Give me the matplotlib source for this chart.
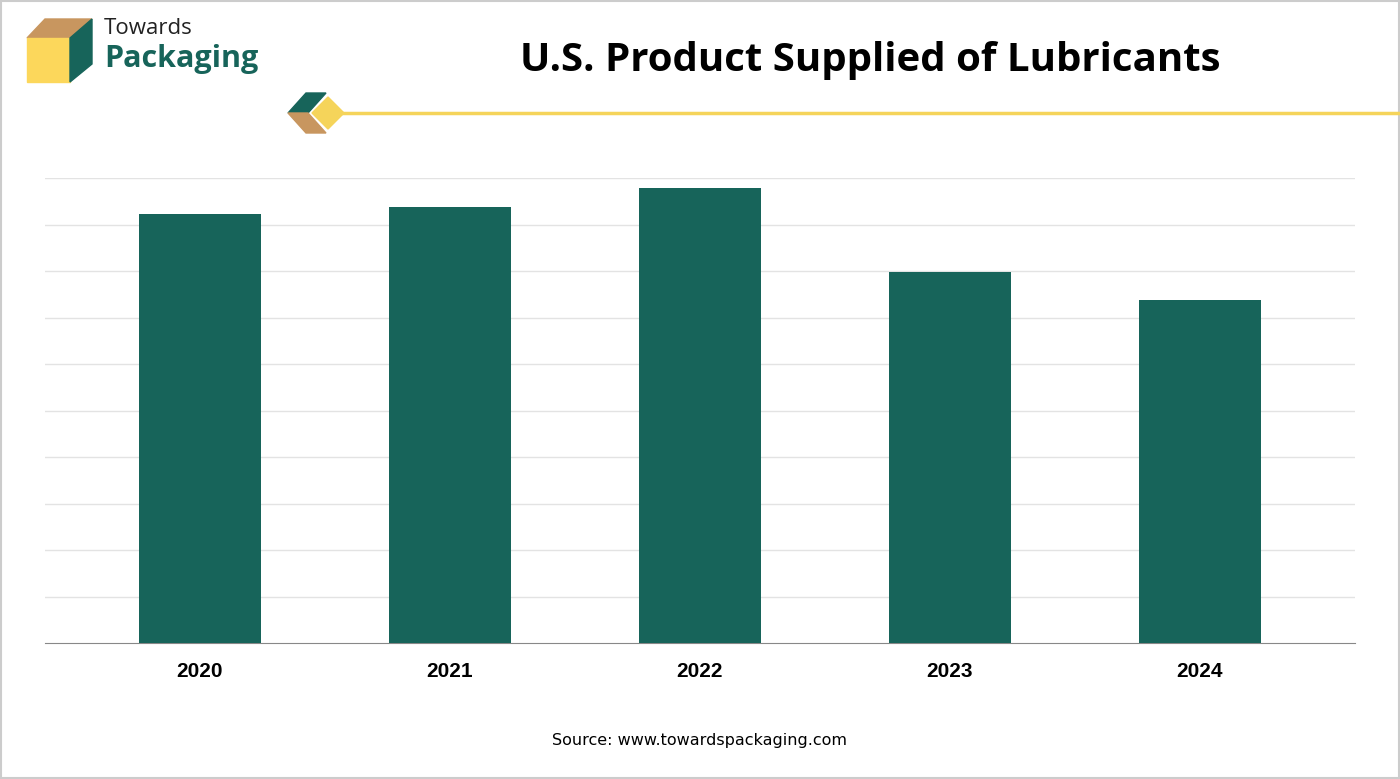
import matplotlib.pyplot as plt
from matplotlib.patches import Polygon, Rectangle

years = ['2020', '2021', '2022', '2023', '2024']
values = [9.23, 9.38, 9.78, 7.98, 7.38]

W, H = 1400, 779
fig = plt.figure(figsize=(14, 7.79), dpi=100)

def fx(px):
    return px / W

def fy(py):
    return 1 - py / H

ax = fig.add_axes([fx(45), fy(643), fx(1355) - fx(45), fy(178) - fy(643)])
ax.bar(range(len(years)), values, width=0.49, color='#17645a', zorder=3)
ax.set_xlim(-0.62, 4.62)
ax.set_ylim(0, 10)
ax.set_yticks(range(1, 11))
ax.yaxis.grid(True, color='#e3e3e3', linewidth=1)
ax.tick_params(axis='y', length=0, labelleft=False)
ax.set_xticks(range(len(years)))
ax.set_xticklabels(years, fontsize=15, fontweight='bold', fontfamily='Liberation Sans')
ax.tick_params(axis='x', length=0, pad=14)
for s in ['top', 'right', 'left']:
    ax.spines[s].set_visible(False)
ax.spines['bottom'].set_color('#888888')

# header
fig.text(fx(870), fy(60), 'U.S. Product Supplied of Lubricants', ha='center', va='center',
         fontsize=29, fontweight='bold', fontfamily='Open Sans')
fig.add_artist(plt.Line2D([fx(340), fx(1400)], [fy(113), fy(113)], color='#f5d45a', lw=2.5))
fig.add_artist(Polygon([(fx(288), fy(113)), (fx(306), fy(93)), (fx(326), fy(93)), (fx(308), fy(113))],
                       color='#17645a', transform=fig.transFigure))
fig.add_artist(Polygon([(fx(288), fy(113)), (fx(308), fy(113)), (fx(326), fy(133)), (fx(306), fy(133))],
                       color='#c8965f', transform=fig.transFigure))
fig.add_artist(Polygon([(fx(312), fy(113)), (fx(328), fy(97)), (fx(344), fy(113)), (fx(328), fy(129))],
                       color='#f5d45a', transform=fig.transFigure))

# logo
fig.add_artist(Polygon([(fx(27), fy(38)), (fx(45), fy(19)), (fx(92), fy(19)), (fx(70), fy(38))],
                       color='#c8965f', transform=fig.transFigure))
fig.add_artist(Rectangle((fx(27), fy(82)), fx(43), fy(38) - fy(82), color='#fcd75b',
                         transform=fig.transFigure))
fig.add_artist(Polygon([(fx(70), fy(38)), (fx(92), fy(19)), (fx(92), fy(64)), (fx(70), fy(82))],
                       color='#17645a', transform=fig.transFigure))
fig.text(fx(104), fy(28), 'Towards', fontsize=16, va='center', color='#222222', fontfamily='Open Sans')
fig.text(fx(104), fy(59), 'Packaging', fontsize=22, va='center', color='#17645a',
         fontweight='bold', fontfamily='Open Sans')

fig.text(0.5, fy(741), 'Source: www.towardspackaging.com', ha='center', va='center',
         fontsize=11.5, fontfamily='DejaVu Sans')

fig.add_artist(Rectangle((0.001, 0.001), 0.998, 0.998, fill=False, edgecolor='#cccccc',
                         lw=1.5, transform=fig.transFigure))

fig.savefig('out.png', dpi=100)
